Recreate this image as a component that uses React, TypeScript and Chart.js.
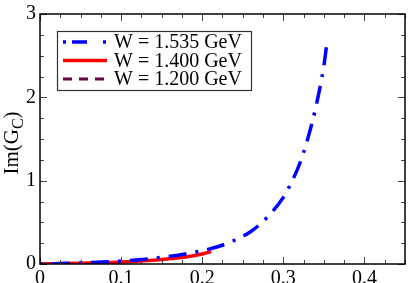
import React, { useEffect, useRef } from "react";
import { Chart, registerables } from "chart.js";

Chart.register(...registerables);

// ---- data ----
const blueX = [0, 0.05, 0.1, 0.15, 0.2, 0.22, 0.24, 0.26, 0.28, 0.3, 0.31, 0.32, 0.33, 0.34, 0.35, 0.353];
const blueY = [0, 0.012, 0.035, 0.08, 0.16, 0.21, 0.285, 0.39, 0.56, 0.8, 0.98, 1.2, 1.5, 1.88, 2.38, 2.6];
const redX = [0, 0.05, 0.1, 0.15, 0.18, 0.2, 0.211];
const redY = [0, 0.008, 0.025, 0.055, 0.085, 0.12, 0.15];
const maroonX = [0, 0.03, 0.06];
const maroonY = [0, 0.003, 0.008];
const seriesLabels = ["W = 1.535 GeV", "W = 1.400 GeV", "W = 1.200 GeV"];
const xTickValues = [0, 0.1, 0.2, 0.3, 0.4];
const xTickLabels = ["0", "0.1", "0.2", "0.3", "0.4"];
const yTickValues = [0, 1, 2, 3];
const yTickLabels = ["0", "1", "2", "3"];
const yTitleMain = "Im(G";
const yTitleSub = "C";
const yTitleEnd = ")";

const FONT = "'Liberation Serif', 'DejaVu Serif', serif";

const toPts = (xs: number[], ys: number[]) => xs.map((x, i) => ({ x, y: ys[i] }));

const legendDash: Record<number, number[]> = { 0: [3, 6, 15, 16], 1: [], 2: [9, 7] };

const framePlugin = {
  id: "frameTicks",
  afterDatasetsDraw(chart: any) {
    const { ctx, chartArea } = chart;
    const { left, right, top, bottom } = chartArea;
    const xs = chart.scales.x;
    const ys = chart.scales.y;
    ctx.save();
    ctx.strokeStyle = "#444";
    ctx.lineWidth = 1;
    ctx.beginPath();
    for (let v = xs.min; v <= xs.max + 1e-9; v += 0.025) {
      const major = Math.abs(v / 0.1 - Math.round(v / 0.1)) < 1e-6;
      const len = major ? 7 : 4;
      const px = Math.round(xs.getPixelForValue(v)) + 0.5;
      ctx.moveTo(px, bottom);
      ctx.lineTo(px, bottom - len);
      ctx.moveTo(px, top);
      ctx.lineTo(px, top + len);
    }
    for (let v = ys.min; v <= ys.max + 1e-9; v += 0.25) {
      const major = Math.abs(v - Math.round(v)) < 1e-6;
      const len = major ? 7 : 4;
      const py = Math.round(ys.getPixelForValue(v)) + 0.5;
      ctx.moveTo(left, py);
      ctx.lineTo(left + len, py);
      ctx.moveTo(right, py);
      ctx.lineTo(right - len, py);
    }
    ctx.stroke();
    ctx.strokeStyle = "#000";
    ctx.lineWidth = 1.5;
    ctx.strokeRect(left, top, right - left, bottom - top);
    ctx.restore();
  },
  afterDraw(chart: any) {
    const { ctx, chartArea } = chart;
    const { left, top, bottom } = chartArea;
    ctx.save();
    // legend
    const bx = left + 17;
    const by = top + 17;
    const bw = 194;
    const bh = 59;
    ctx.fillStyle = "#fff";
    ctx.fillRect(bx, by, bw, bh);
    ctx.strokeStyle = "#333";
    ctx.lineWidth = 1.2;
    ctx.strokeRect(bx + 0.5, by + 0.5, bw, bh);
    ctx.font = `20px ${FONT}`;
    ctx.textBaseline = "middle";
    ctx.textAlign = "left";
    chart.data.datasets.forEach((ds: any, i: number) => {
      const cy = by + 11 + i * 18.5;
      ctx.beginPath();
      ctx.strokeStyle = ds.borderColor;
      ctx.lineWidth = ds.borderWidth;
      ctx.setLineDash(legendDash[i]);
      ctx.moveTo(bx + 6, cy);
      ctx.lineTo(bx + 50, cy);
      ctx.stroke();
      ctx.setLineDash([]);
      ctx.fillStyle = "#000";
      ctx.fillText(ds.label, bx + 57, cy + 1);
    });
    // y title with subscript
    const mainSize = 21;
    const subSize = 16;
    ctx.font = `${mainSize}px ${FONT}`;
    const w1 = ctx.measureText(yTitleMain).width;
    const w3 = ctx.measureText(yTitleEnd).width;
    ctx.font = `${subSize}px ${FONT}`;
    const w2 = ctx.measureText(yTitleSub).width;
    const total = w1 + w2 + w3;
    const cy = (top + bottom) / 2 + 4;
    ctx.translate(18, cy + total / 2);
    ctx.rotate(-Math.PI / 2);
    ctx.fillStyle = "#000";
    ctx.textBaseline = "alphabetic";
    ctx.font = `${mainSize}px ${FONT}`;
    ctx.fillText(yTitleMain, 0, 0);
    ctx.font = `${subSize}px ${FONT}`;
    ctx.fillText(yTitleSub, w1, 5);
    ctx.font = `${mainSize}px ${FONT}`;
    ctx.fillText(yTitleEnd, w1 + w2, 0);
    ctx.restore();
  },
};

export default function App() {
  const ref = useRef<HTMLCanvasElement | null>(null);
  useEffect(() => {
    document.body.style.margin = "0";
    if (!ref.current) return;
    const chart = new Chart(ref.current, {
      type: "line",
      data: {
        datasets: [
          {
            label: seriesLabels[0],
            data: toPts(blueX, blueY),
            borderColor: "#0000ff",
            borderWidth: 3.5,
            borderDash: [3, 9, 18, 9],
            pointRadius: 0,
            cubicInterpolationMode: "monotone",
            fill: false,
          },
          {
            label: seriesLabels[1],
            data: toPts(redX, redY),
            borderColor: "#ff0000",
            borderWidth: 3.5,
            pointRadius: 0,
            cubicInterpolationMode: "monotone",
            fill: false,
          },
          {
            label: seriesLabels[2],
            data: toPts(maroonX, maroonY),
            borderColor: "#660044",
            borderWidth: 3,
            borderDash: [9, 7],
            pointRadius: 0,
            cubicInterpolationMode: "monotone",
            fill: false,
          },
        ],
      },
      options: {
        animation: false,
        responsive: false,
        devicePixelRatio: 1,
        layout: { padding: { top: 7, right: 4, left: 0, bottom: 0 } },
        plugins: { legend: { display: false }, tooltip: { enabled: false } },
        scales: {
          x: {
            type: "linear",
            min: 0,
            max: 0.45,
            grid: { display: false, drawTicks: false },
            border: { display: false },
            afterBuildTicks: (s: any) => {
              s.ticks = xTickValues.map((v) => ({ value: v }));
            },
            afterFit: (s: any) => {
              s.height = 19;
            },
            ticks: {
              padding: 5,
              maxRotation: 0,
              autoSkip: false,
              color: "#000",
              font: { family: FONT, size: 20, lineHeight: 1 },
              callback: (_v: any, i: number) => xTickLabels[i],
            },
          },
          y: {
            type: "linear",
            min: 0,
            max: 3,
            grid: { display: false, drawTicks: false },
            border: { display: false },
            afterBuildTicks: (s: any) => {
              s.ticks = yTickValues.map((v) => ({ value: v }));
            },
            afterFit: (s: any) => {
              s.width = 40;
            },
            ticks: {
              padding: 4,
              autoSkip: false,
              color: "#000",
              font: { family: FONT, size: 20, lineHeight: 1 },
              callback: (_v: any, i: number) => yTickLabels[i],
            },
          },
        },
      },
      plugins: [framePlugin],
    } as any);
    return () => chart.destroy();
  }, []);
  return (
    <div style={{ position: "fixed", left: 0, top: 0, width: 409, height: 283 }}>
      <canvas ref={ref} width={409} height={283} style={{ display: "block" }} />
    </div>
  );
}
